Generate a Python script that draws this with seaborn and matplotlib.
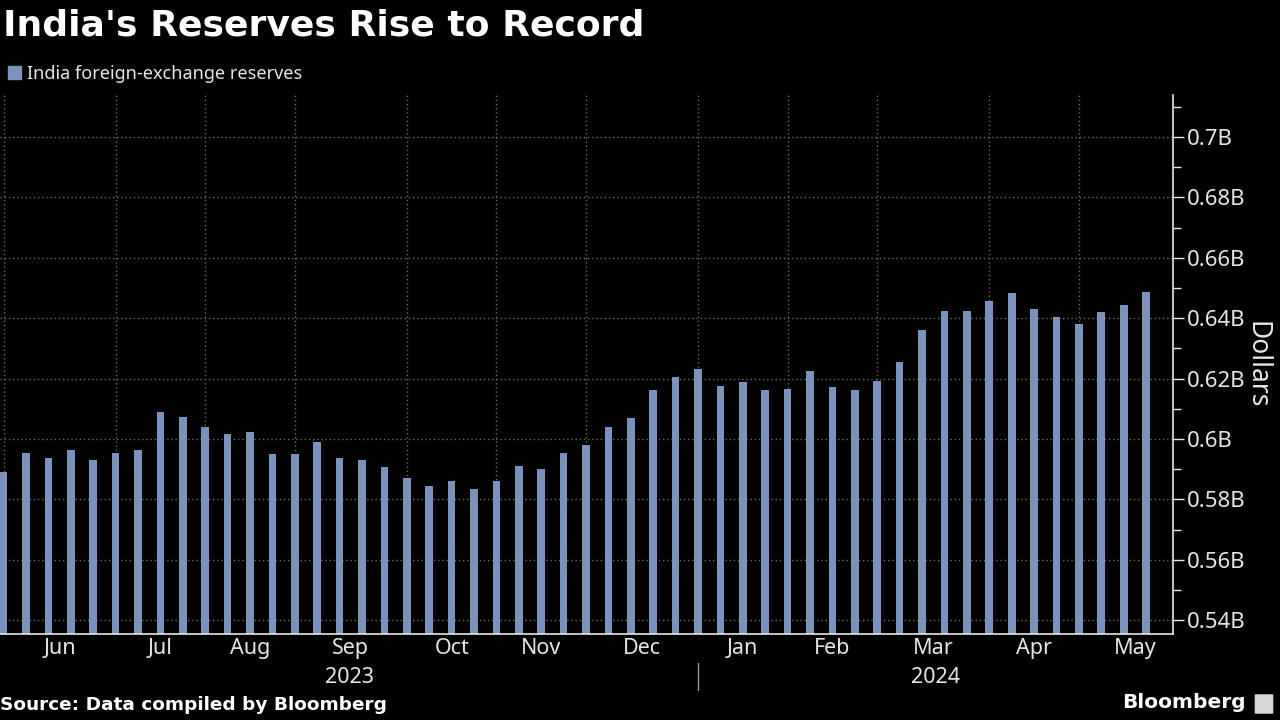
import matplotlib.pyplot as plt
import matplotlib.transforms as mtransforms
from matplotlib.patches import Patch, FancyBboxPatch
import pandas as pd
import seaborn as sns

# Weekly readings (Fridays), June 2023 - May 2024
weeks = pd.date_range("2023-06-02", "2024-05-24", freq="W-FRI")
reserves = [
    0.5891, 0.5952, 0.5937, 0.5962, 0.5931, 0.5952, 0.5962, 0.6090, 0.6072, 0.6040,
    0.6015, 0.6023, 0.5949, 0.5949, 0.5990, 0.5937, 0.5931, 0.5906, 0.5871, 0.5845,
    0.5860, 0.5835, 0.5860, 0.5909, 0.5902, 0.5955, 0.5981, 0.6041, 0.6068, 0.6161,
    0.6206, 0.6231, 0.6174, 0.6189, 0.6161, 0.6167, 0.6224, 0.6171, 0.6161, 0.6192,
    0.6256, 0.6362, 0.6425, 0.6425, 0.6457, 0.6485, 0.6432, 0.6404, 0.6380, 0.6419,
    0.6443, 0.6488,
]
month_labels = ["Jun", "Jul", "Aug", "Sep", "Oct", "Nov", "Dec",
                "Jan", "Feb", "Mar", "Apr", "May"]
year_labels = ["2023", "2024"]
y_ticks = [0.54, 0.56, 0.58, 0.60, 0.62, 0.64, 0.66, 0.68, 0.70]
y_tick_labels = ["0.54B", "0.56B", "0.58B", "0.6B", "0.62B", "0.64B", "0.66B", "0.68B", "0.7B"]
y_minor = [0.55, 0.57, 0.59, 0.61, 0.63, 0.65, 0.67, 0.69, 0.71]

df = pd.DataFrame({"week": weeks.strftime("%Y-%m-%d"), "reserves": reserves})

BG = "black"
BAR = "#7b93ba"
GRID = "#6a6a6a"
TEXT = "#e6e6e6"

sns.set_theme(style="dark")
plt.rcParams["font.family"] = ["Noto Sans", "DejaVu Sans"]

fig = plt.figure(figsize=(12.8, 7.2), dpi=100, facecolor=BG)
ax = fig.add_axes([0.0, 0.1194, 0.9164, 0.7486])
ax.set_facecolor(BG)

sns.barplot(data=df, x="week", y="reserves", color=BAR, saturation=1,
            width=0.34, linewidth=0, errorbar=None, ax=ax)

# month boundaries: first Friday of each month (one extra month to close May)
ext = pd.date_range(weeks[0], periods=len(weeks) + 2, freq="W-FRI")
bounds = [i for i in range(len(ext)) if i == 0 or ext[i].month != ext[i - 1].month]
starts = bounds[:-1]
centers = [(a + b) / 2 for a, b in zip(bounds[:-1], bounds[1:])]
year_break = next(i for i, d in enumerate(weeks) if d.year == 2024)

xmin, xmax = -0.16, 52.2
ax.set_xlim(xmin, xmax)
ax.set_ylim(0.5354, 0.7139)

ax.set_xticks(starts, labels=[""] * len(starts))
ax.set_xticks(centers, labels=month_labels, minor=True)
ax.tick_params(axis="x", which="major", length=5, width=1, color=TEXT, direction="out")
ax.tick_params(axis="x", which="minor", length=0, labelsize=15.5, labelcolor=TEXT, pad=3)

ax.yaxis.tick_right()
ax.yaxis.set_label_position("right")
ax.set_yticks(y_ticks, labels=y_tick_labels)
ax.set_yticks(y_minor, minor=True)
ax.tick_params(axis="y", which="major", length=8, width=1, color=TEXT,
               labelcolor=TEXT, labelsize=16, direction="out", pad=2)
ax.tick_params(axis="y", which="minor", length=6, width=1, color=TEXT, direction="out")

ax.xaxis.grid(True, which="major", linestyle=(0, (1, 2)), color=GRID, linewidth=1)
ax.yaxis.grid(True, which="major", linestyle=(0, (1, 2)), color=GRID, linewidth=1)
ax.set_axisbelow(True)

for side in ["left", "top"]:
    ax.spines[side].set_visible(False)
for side in ["right", "bottom"]:
    ax.spines[side].set_visible(True)
    ax.spines[side].set_color(TEXT)
    ax.spines[side].set_linewidth(1.2)

ax.set_xlabel("")
ax.set_ylabel("Dollars", rotation=270, fontsize=19, color=TEXT, labelpad=18)

# year labels under the months
trans = mtransforms.blended_transform_factory(ax.transData, ax.transAxes)
ax.text((xmin + year_break) / 2, -0.08, year_labels[0], transform=trans,
        ha="center", va="center", fontsize=15.5, color=TEXT)
ax.text((year_break + xmax) / 2, -0.08, year_labels[1], transform=trans,
        ha="center", va="center", fontsize=15.5, color=TEXT)
ax.plot([year_break, year_break], [-0.054, -0.104], transform=trans,
        color="#9a9a9a", linewidth=1, clip_on=False)

# title, legend, footer
fig.text(0.002, 1 - 25 / 720, "India's Reserves Rise to Record", fontsize=26,
         fontweight="bold", family="DejaVu Sans", color="white", va="center", ha="left")
fig.legend(handles=[Patch(color=BAR, label="India foreign-exchange reserves")],
           loc="center left", bbox_to_anchor=(0.006, 1 - 74 / 720), frameon=False,
           handlelength=0.75, handleheight=0.75, handletextpad=0.3,
           borderaxespad=0, borderpad=0, fontsize=13, labelcolor=TEXT)
fig.text(0.0, 1 - 705 / 720, "Source: Data compiled by Bloomberg", fontsize=13.3,
         fontweight="bold", family="DejaVu Sans", color="white", va="center", ha="left")
fig.text(1246 / 1280, 1 - 703 / 720, "Bloomberg", fontsize=14.5, fontweight="bold",
         family="DejaVu Sans", color="white", va="center", ha="right")
fig.patches.append(FancyBboxPatch((1256 / 1280, 1 - 713 / 720), 16 / 1280, 18 / 720,
                                  boxstyle="round,pad=0.001", transform=fig.transFigure,
                                  facecolor="#d8d8d8", edgecolor="none"))

fig.savefig("out.png", dpi=100, facecolor=BG)
